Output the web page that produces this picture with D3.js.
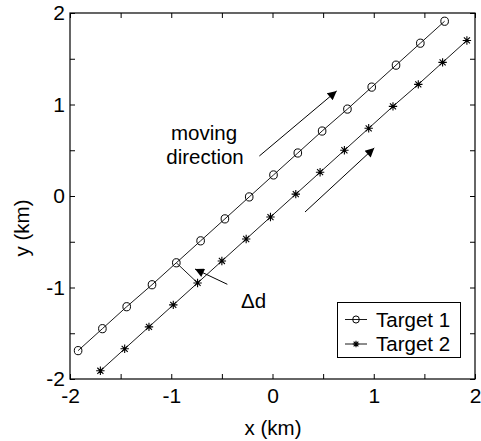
<!DOCTYPE html>
<html><head><meta charset="utf-8">
<script src="https://cdn.jsdelivr.net/npm/d3@7"></script>
<style>
html,body{margin:0;padding:0;background:#fff;}
svg text{font-family:"Liberation Sans",Arial,Helvetica,sans-serif;fill:#000;}
</style></head>
<body><svg id="c" width="481" height="441"></svg>
<script>
// ---- data ----
const target1X = [-1.92,-1.68,-1.44,-1.19,-0.95,-0.71,-0.47,-0.23,0.01,0.25,0.49,0.74,0.98,1.22,1.46,1.70];
const target1Y = [-1.69,-1.45,-1.21,-0.97,-0.73,-0.49,-0.25,-0.01,0.23,0.47,0.71,0.95,1.19,1.43,1.67,1.91];
const target2X = [-1.70,-1.46,-1.22,-0.98,-0.74,-0.50,-0.26,-0.02,0.23,0.47,0.71,0.95,1.19,1.44,1.68,1.92];
const target2Y = [-1.91,-1.67,-1.43,-1.19,-0.95,-0.71,-0.47,-0.23,0.02,0.26,0.50,0.74,0.98,1.22,1.46,1.70];
const seriesNames = ["Target 1","Target 2"];
const xTicks = [-2,-1.5,-1,-0.5,0,0.5,1,1.5,2];
const yTicks = [-2,-1.5,-1,-0.5,0,0.5,1,1.5,2];
const xTickLabels = ["-2","","-1","","0","","1","","2"];
const yTickLabels = ["-2","","-1","","0","","1","","2"];
// arrows: [x1,y1,x2,y2] in data units
const moveArrows = [[-0.13,0.437,0.634,1.148],[0.321,-0.175,1.005,0.525]];
const deltaPointer = [-0.446,-0.965,-0.765,-0.798];
const deltaPair = 4; // index of the point pair joined by the Δd segment

// ---- layout ----
const L=70, R=475, T=13, B=379;
const svg = d3.select("#c");
const x = d3.scaleLinear().domain([-2,2]).range([L,R]);
const y = d3.scaleLinear().domain([-2,2]).range([B,T]);

svg.append("defs").append("marker").attr("id","ah")
  .attr("viewBox","0 0 10 10").attr("refX",10).attr("refY",5)
  .attr("markerWidth",11).attr("markerHeight",9).attr("markerUnits","userSpaceOnUse")
  .attr("orient","auto")
  .append("path").attr("d","M0,0L10,5L0,10z").attr("fill","#000");

const fmtX = (d,i)=>xTickLabels[i];
const fmtY = (d,i)=>yTickLabels[i];

function styleAxis(g){
  g.select(".domain").remove();
  g.selectAll(".tick line").attr("stroke","#000").attr("stroke-width",1);
  g.selectAll(".tick text").attr("font-size",21).attr("fill","#000")
    .attr("font-family","'Liberation Sans',Arial,sans-serif");
}
svg.append("g").attr("transform",`translate(0,${B})`)
  .call(d3.axisBottom(x).tickValues(xTicks).tickFormat(fmtX).tickSizeInner(-5).tickSizeOuter(0).tickPadding(9))
  .call(styleAxis);
svg.append("g").attr("transform",`translate(0,${T})`)
  .call(d3.axisTop(x).tickValues(xTicks).tickFormat("").tickSizeInner(-5).tickSizeOuter(0))
  .call(styleAxis);
svg.append("g").attr("transform",`translate(${L},0)`)
  .call(d3.axisLeft(y).tickValues(yTicks).tickFormat(fmtY).tickSizeInner(-5).tickSizeOuter(0).tickPadding(5))
  .call(styleAxis);
svg.append("g").attr("transform",`translate(${R},0)`)
  .call(d3.axisRight(y).tickValues(yTicks).tickFormat("").tickSizeInner(-5).tickSizeOuter(0))
  .call(styleAxis);

svg.append("rect").attr("x",L).attr("y",T).attr("width",R-L).attr("height",B-T)
  .attr("fill","none").attr("stroke","#000").attr("stroke-width",1.2);

// ---- series ----
const s1 = target1X.map((v,i)=>[v,target1Y[i]]);
const s2 = target2X.map((v,i)=>[v,target2Y[i]]);
const line = d3.line().x(d=>x(d[0])).y(d=>y(d[1]));
svg.append("path").attr("d",line(s1)).attr("fill","none").attr("stroke","#000").attr("stroke-width",0.9);
svg.append("path").attr("d",line(s2)).attr("fill","none").attr("stroke","#000").attr("stroke-width",0.9);

function circleMark(g,cx,cy,r){
  g.append("ellipse").attr("cx",cx).attr("cy",cy).attr("rx",r).attr("ry",r*1.08)
    .attr("fill","none").attr("stroke","#000").attr("stroke-width",1);
}
function starMark(g,cx,cy,r){
  const d = r*0.72;
  g.append("path").attr("d",
    `M${cx-r},${cy}L${cx+r},${cy}M${cx},${cy-r}L${cx},${cy+r}`+
    `M${cx-d},${cy-d}L${cx+d},${cy+d}M${cx-d},${cy+d}L${cx+d},${cy-d}`)
    .attr("stroke","#000").attr("stroke-width",1.1).attr("fill","none");
}
const gm = svg.append("g");
s1.forEach(d=>circleMark(gm,x(d[0]),y(d[1]),3.8));
s2.forEach(d=>starMark(gm,x(d[0]),y(d[1]),4.2));

// Δd segment
svg.append("line")
  .attr("x1",x(target1X[deltaPair])).attr("y1",y(target1Y[deltaPair]))
  .attr("x2",x(target2X[deltaPair])).attr("y2",y(target2Y[deltaPair]))
  .attr("stroke","#000").attr("stroke-width",0.9);

// arrows
moveArrows.concat([deltaPointer]).forEach(a=>{
  svg.append("line").attr("x1",x(a[0])).attr("y1",y(a[1])).attr("x2",x(a[2])).attr("y2",y(a[3]))
    .attr("stroke","#000").attr("stroke-width",1).attr("marker-end","url(#ah)");
});

// annotations
svg.append("text").attr("x",204).attr("y",140).attr("text-anchor","middle").attr("font-size",20.5).text("moving");
svg.append("text").attr("x",205).attr("y",164).attr("text-anchor","middle").attr("font-size",20.5).text("direction");
svg.append("text").attr("x",241).attr("y",308).attr("font-size",20.5).text("\u0394d");

// axis labels
svg.append("text").attr("x",273).attr("y",435).attr("text-anchor","middle").attr("font-size",20.5).text("x (km)");
svg.append("text").attr("transform","translate(29,228) rotate(-90)").attr("text-anchor","middle").attr("font-size",20.5).text("y (km)");

// legend
const lg = svg.append("g");
lg.append("rect").attr("x",337.5).attr("y",302.5).attr("width",123).attr("height",55)
  .attr("fill","#fff").attr("stroke","#000").attr("stroke-width",1);
const rowsY = [319.5,344];
seriesNames.forEach((n,i)=>{
  lg.append("line").attr("x1",345).attr("x2",367).attr("y1",rowsY[i]).attr("y2",rowsY[i])
    .attr("stroke","#000").attr("stroke-width",0.9);
  if(i===0) circleMark(lg,356,rowsY[i],3.3); else starMark(lg,356,rowsY[i],3.3);
  lg.append("text").attr("x",376).attr("y",rowsY[i]+7).attr("font-size",20.5).text(n);
});
</script></body></html>
